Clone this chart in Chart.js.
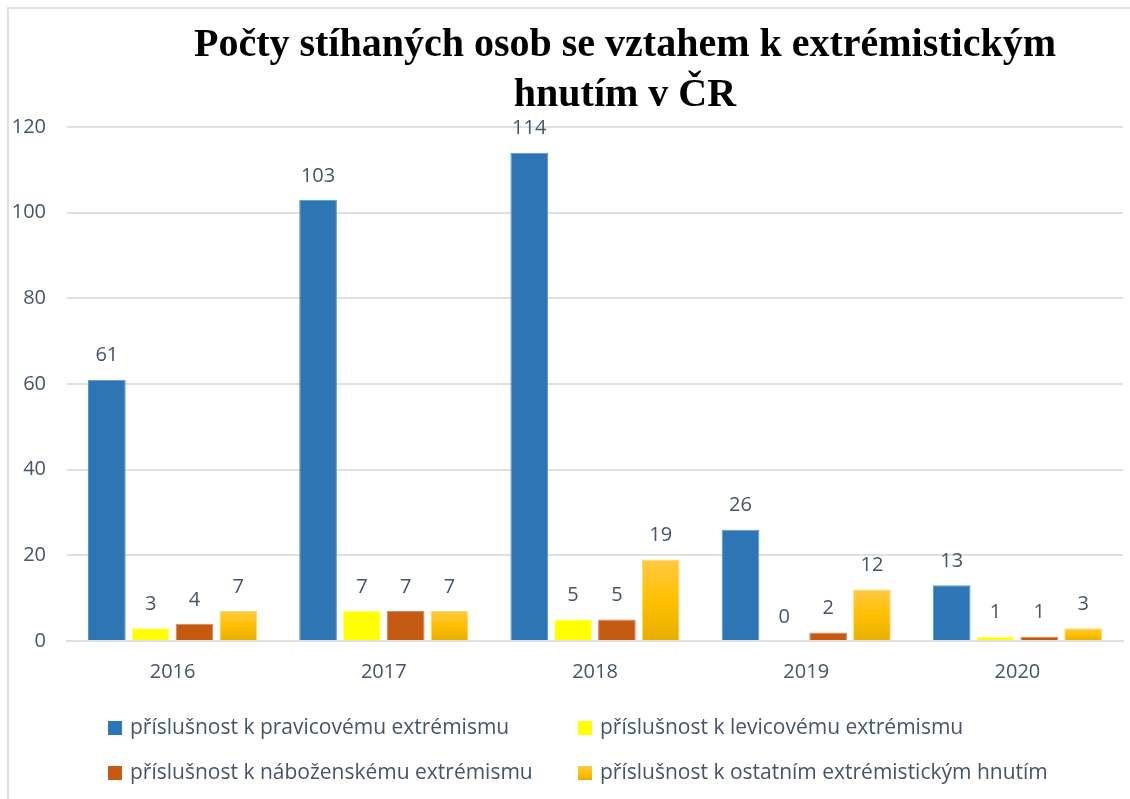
<!DOCTYPE html>
<html>
<head>
<meta charset="utf-8">
<script src="https://cdn.jsdelivr.net/npm/chart.js@4/dist/chart.umd.min.js"></script>
<style>
  html, body { margin: 0; padding: 0; background: #ffffff; }
  #wrap { position: relative; width: 1130px; height: 799px; overflow: hidden; }
  #frame { position: absolute; left: 7px; top: 7px; width: 1200px; height: 900px;
           border-top: 2px solid #dde1e6; border-left: 2px solid #dde1e6; pointer-events: none; }
  canvas { position: absolute; left: 0; top: 0; }
  .leg { position: absolute; font-family: "Open Sans", sans-serif; font-size: 21px; color: #44546A;
         white-space: nowrap; line-height: 24px; }
  .leg i { display: inline-block; width: 14px; height: 14px; margin-right: 8px; vertical-align: -1px; }
</style>
</head>
<body>
<div id="wrap">
  <canvas id="c" width="1130" height="799"></canvas>
  <div id="frame"></div>
  <div id="legend"></div>
</div>
<script>
const titleLines = ["Počty stíhaných osob se vztahem k extrémistickým", "hnutím v ČR"];
const categories = ["2016", "2017", "2018", "2019", "2020"];
const seriesNames = [
  "příslušnost k pravicovému extrémismu",
  "příslušnost k levicovému extrémismu",
  "příslušnost k náboženskému extrémismu",
  "příslušnost k ostatním extrémistickým hnutím"
];
const rightWing = [61, 103, 114, 26, 13];
const leftWing = [3, 7, 5, 0, 1];
const religious = [4, 7, 5, 2, 1];
const other = [7, 7, 19, 12, 3];
const yTicks = [0, 20, 40, 60, 80, 100, 120];

const TEXT = "#44546A";

function goldFill(ctx) {
  const chart = ctx.chart;
  if (!chart.chartArea || ctx.type !== 'data') return '#FFC000';
  const y = chart.scales.y;
  const top = y.getPixelForValue(ctx.raw);
  const bottom = y.getPixelForValue(0);
  if (!(bottom - top > 0.5)) return '#FFC000';
  const g = chart.ctx.createLinearGradient(0, top, 0, bottom);
  g.addColorStop(0, '#FFC944');
  g.addColorStop(0.5, '#FFC000');
  g.addColorStop(1, '#E6AE00');
  return g;
}

const valueLabels = {
  id: 'valueLabels',
  afterDatasetsDraw(chart) {
    const ctx = chart.ctx;
    ctx.save();
    ctx.font = '20px "Open Sans", sans-serif';
    ctx.fillStyle = TEXT;
    ctx.textAlign = 'center';
    ctx.textBaseline = 'middle';
    chart.data.datasets.forEach((ds, i) => {
      chart.getDatasetMeta(i).data.forEach((bar, j) => {
        ctx.fillText(String(ds.data[j]), bar.x, bar.y - 24);
      });
    });
    ctx.restore();
  }
};

const titlePlugin = {
  id: 'titleLines',
  afterDraw(chart) {
    const ctx = chart.ctx;
    ctx.save();
    ctx.font = 'bold 40px "Liberation Serif", serif';
    ctx.fillStyle = '#000000';
    ctx.textAlign = 'center';
    ctx.textBaseline = 'middle';
    ctx.fillText(titleLines[0], 625, 46);
    ctx.fillText(titleLines[1], 625, 96);
    ctx.restore();
  }
};

const colors = ['#2E75B6', '#FFFF00', '#C55A11', null];
const borders = ['#5b93c9', '#ffff66', '#d9865a', '#ffd766'];
const values = [rightWing, leftWing, religious, other];

const datasets = seriesNames.map((name, i) => ({
  label: name,
  data: values[i],
  backgroundColor: i === 3 ? goldFill : colors[i],
  borderColor: borders[i],
  borderWidth: 1,
  categoryPercentage: 0.83,
  barPercentage: 0.86
}));

new Chart(document.getElementById('c'), {
  type: 'bar',
  data: { labels: categories, datasets },
  plugins: [valueLabels, titlePlugin],
  options: {
    responsive: false,
    animation: false,
    devicePixelRatio: 1,
    layout: { padding: { left: 0, right: 7, top: 127, bottom: 120 } },
    plugins: { legend: { display: false }, title: { display: false }, tooltip: { enabled: false } },
    scales: {
      x: {
        grid: { display: false, drawTicks: false },
        border: { display: true, color: '#dde1e6', width: 2 },
        ticks: { color: TEXT, font: { family: '"Open Sans", sans-serif', size: 20 }, padding: 19 },
        afterFit(s) { s.height = 38; }
      },
      y: {
        min: 0, max: 120,
        afterBuildTicks(s) { s.ticks = yTicks.map(v => ({ value: v })); },
        grid: { color: '#dde1e6', lineWidth: 2, drawTicks: false },
        border: { display: false },
        ticks: { color: TEXT, font: { family: '"Open Sans", sans-serif', size: 20 }, padding: 21 },
        afterFit(s) { s.width = 67; }
      }
    }
  }
});

// HTML legend in 2x2 grid
const legPos = [[108, 726], [578, 726], [108, 771], [578, 771]];
const legFill = ['#2E75B6', '#FFFF00', '#C55A11', 'linear-gradient(#FFC944, #FFC000 50%, #E6AE00)'];
const legend = document.getElementById('legend');
seriesNames.forEach((name, i) => {
  const d = document.createElement('div');
  d.className = 'leg';
  d.style.left = legPos[i][0] + 'px';
  d.style.top = (legPos[i][1] - 12) + 'px';
  const box = document.createElement('i');
  box.style.background = legFill[i];
  d.appendChild(box);
  d.appendChild(document.createTextNode(name));
  legend.appendChild(d);
});
</script>
</body>
</html>
